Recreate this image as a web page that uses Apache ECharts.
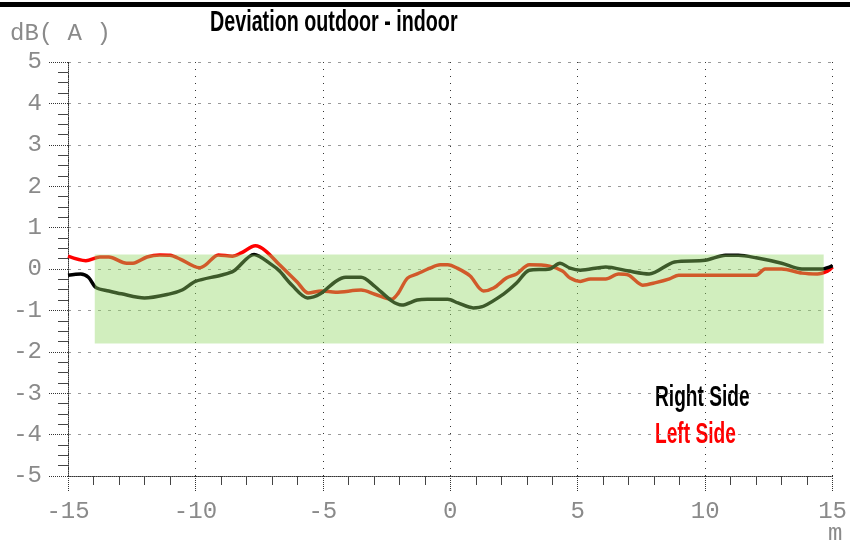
<!DOCTYPE html>
<html>
<head>
<meta charset="utf-8">
<script src="https://cdn.jsdelivr.net/npm/echarts@6/dist/echarts.min.js"></script>
<style>
  html, body {margin: 0; padding: 0; background: #fff;}
  #chart {width: 850px; height: 544px;}
</style>
</head>
<body>
<div id="chart"></div>
<script>
// 右侧 (black) 读数
const rightX = [-15, -14.5, -14.2, -13.9, -13.4, -12.9, -12, -11, -10.5, -10, -9, -8.5, -7.7, -7, -6.7, -6.2, -5.6, -5.1, -4.5, -4.1, -3.5, -3, -2.3, -1.9, -1.3, -0.9, -0.1, 0.3, 0.9, 1.3, 2.1, 2.6, 3.1, 3.9, 4.3, 4.7, 5.1, 6.1, 7, 7.8, 8.8, 10, 10.8, 11.3, 12, 13, 13.8, 14.6, 15];
const rightY = [-0.15, -0.12, -0.2, -0.45, -0.53, -0.6, -0.7, -0.6, -0.5, -0.3, -0.15, -0.05, 0.35, 0.1, -0.05, -0.4, -0.7, -0.6, -0.3, -0.2, -0.2, -0.4, -0.77, -0.87, -0.75, -0.73, -0.73, -0.82, -0.94, -0.9, -0.6, -0.34, -0.03, 0, 0.14, 0.02, -0.03, 0.05, -0.05, -0.12, 0.17, 0.21, 0.33, 0.33, 0.27, 0.14, 0, 0, 0.08];
// 左侧 (red)
const leftX = [-15, -14.3, -13.75, -13.4, -12.7, -12.45, -11.9, -11.4, -11, -10.6, -9.85, -9.6, -9.1, -8.55, -8.2, -7.65, -7.25, -6.7, -6, -5.57, -5.06, -4.5, -3.5, -2.96, -2.3, -2.06, -1.68, -1.3, -0.8, -0.4, -0.1, 0.27, 0.78, 1.3, 1.7, 2.2, 2.6, 3.1, 3.9, 4.4, 4.7, 5.1, 5.5, 6.1, 6.6, 7, 7.55, 8.06, 8.6, 8.96, 10, 12, 12.35, 13, 13.8, 14.4, 14.8, 15];
const leftY = [0.31, 0.2, 0.29, 0.29, 0.14, 0.14, 0.29, 0.34, 0.33, 0.24, 0.03, 0.1, 0.34, 0.31, 0.39, 0.56, 0.44, 0.1, -0.32, -0.58, -0.53, -0.56, -0.51, -0.61, -0.73, -0.6, -0.22, -0.12, 0.02, 0.1, 0.1, 0.02, -0.17, -0.53, -0.46, -0.22, -0.12, 0.1, 0.07, -0.05, -0.22, -0.3, -0.24, -0.24, -0.12, -0.15, -0.39, -0.33, -0.24, -0.15, -0.15, -0.15, 0, 0, -0.1, -0.12, -0.05, 0.05];
// 绿色区域
const bandX = [-13.95, 14.65];
const bandY = [0.35, -1.8];
const legendNames = ['Right Side', 'Left Side'];

const zip = (xs, ys) => xs.map((x, i) => [x, ys[i]]);
const labelFont = {color: '#8a8a8a', fontFamily: 'Liberation Mono', fontSize: 24};

function narrowText(text, x, y, size, color, sx) {   // 压窄的粗体字
  return {
    type: 'text', x: x, y: y, scaleX: sx,
    style: {text: text, font: 'bold ' + size + 'px "Liberation Sans"', fill: color, verticalAlign: 'top'},
  };
}

const myChart = echarts.init(document.getElementById('chart'));
myChart.setOption({
  animation: false,
  grid: {left: 68, right: 12, top: 62, bottom: 68, containLabel: false},
  xAxis: {
    type: 'value', min: -15, max: 15, interval: 5,
    axisLine: {show: true, onZero: false, lineStyle: {color: '#333', type: 'dotted', width: 1}},
    axisTick: {show: true, length: 16, lineStyle: {color: '#333', type: 'dotted'}},
    minorTick: {show: true, splitNumber: 5, length: 9, lineStyle: {color: '#444'}},
    axisLabel: {...labelFont, margin: 24, formatter: v => v},
    splitLine: {show: true, lineStyle: {color: '#333', type: [1, 6], width: 1}},
  },
  yAxis: {
    type: 'value', min: -5, max: 5, interval: 1,
    axisLine: {show: true, onZero: false, lineStyle: {color: '#333', type: 'dotted', width: 1}},
    axisTick: {show: true, length: 20, lineStyle: {color: '#333', type: 'dotted'}},
    minorTick: {show: true, splitNumber: 4, length: 10, lineStyle: {color: '#444'}},
    axisLabel: {...labelFont, margin: 26},
    splitLine: {show: true, lineStyle: {color: '#999', type: [3, 7], width: 1}},
  },
  graphic: [
    {type: 'rect', left: 0, top: 2, shape: {width: 850, height: 5}, style: {fill: '#000'}},
    narrowText('Deviation outdoor - indoor', 210, 8, 29, '#000', 0.68),
    {type: 'text', left: 10, top: 22, style: {text: 'dB( A )', font: '24px "Liberation Mono"', fill: '#8a8a8a'}},
    {type: 'text', left: 828, top: 522, style: {text: 'm', font: '24px "Liberation Mono"', fill: '#8a8a8a'}},
    narrowText(legendNames[0], 655, 383, 29, '#000', 0.66),
    narrowText(legendNames[1], 655, 420, 29, '#ff0000', 0.66),
  ],
  series: [
    {
      name: legendNames[1], type: 'line', smooth: 0.3, symbol: 'none', z: 2,
      lineStyle: {color: '#ff0000', width: 3.5},
      data: zip(leftX, leftY),
    },
    {
      name: legendNames[0], type: 'line', smooth: 0.3, symbol: 'none', z: 3,
      lineStyle: {color: '#000', width: 3.5},
      data: zip(rightX, rightY),
    },
    {
      type: 'line', data: [], z: 10,
      markArea: {
        silent: true, z: 10,
        itemStyle: {color: 'rgba(145,214,100,0.42)'},   // 半透明叠在线上
        data: [[{coord: [bandX[0], bandY[0]]}, {coord: [bandX[1], bandY[1]]}]],
      },
    },
  ],
});
</script>
</body>
</html>
